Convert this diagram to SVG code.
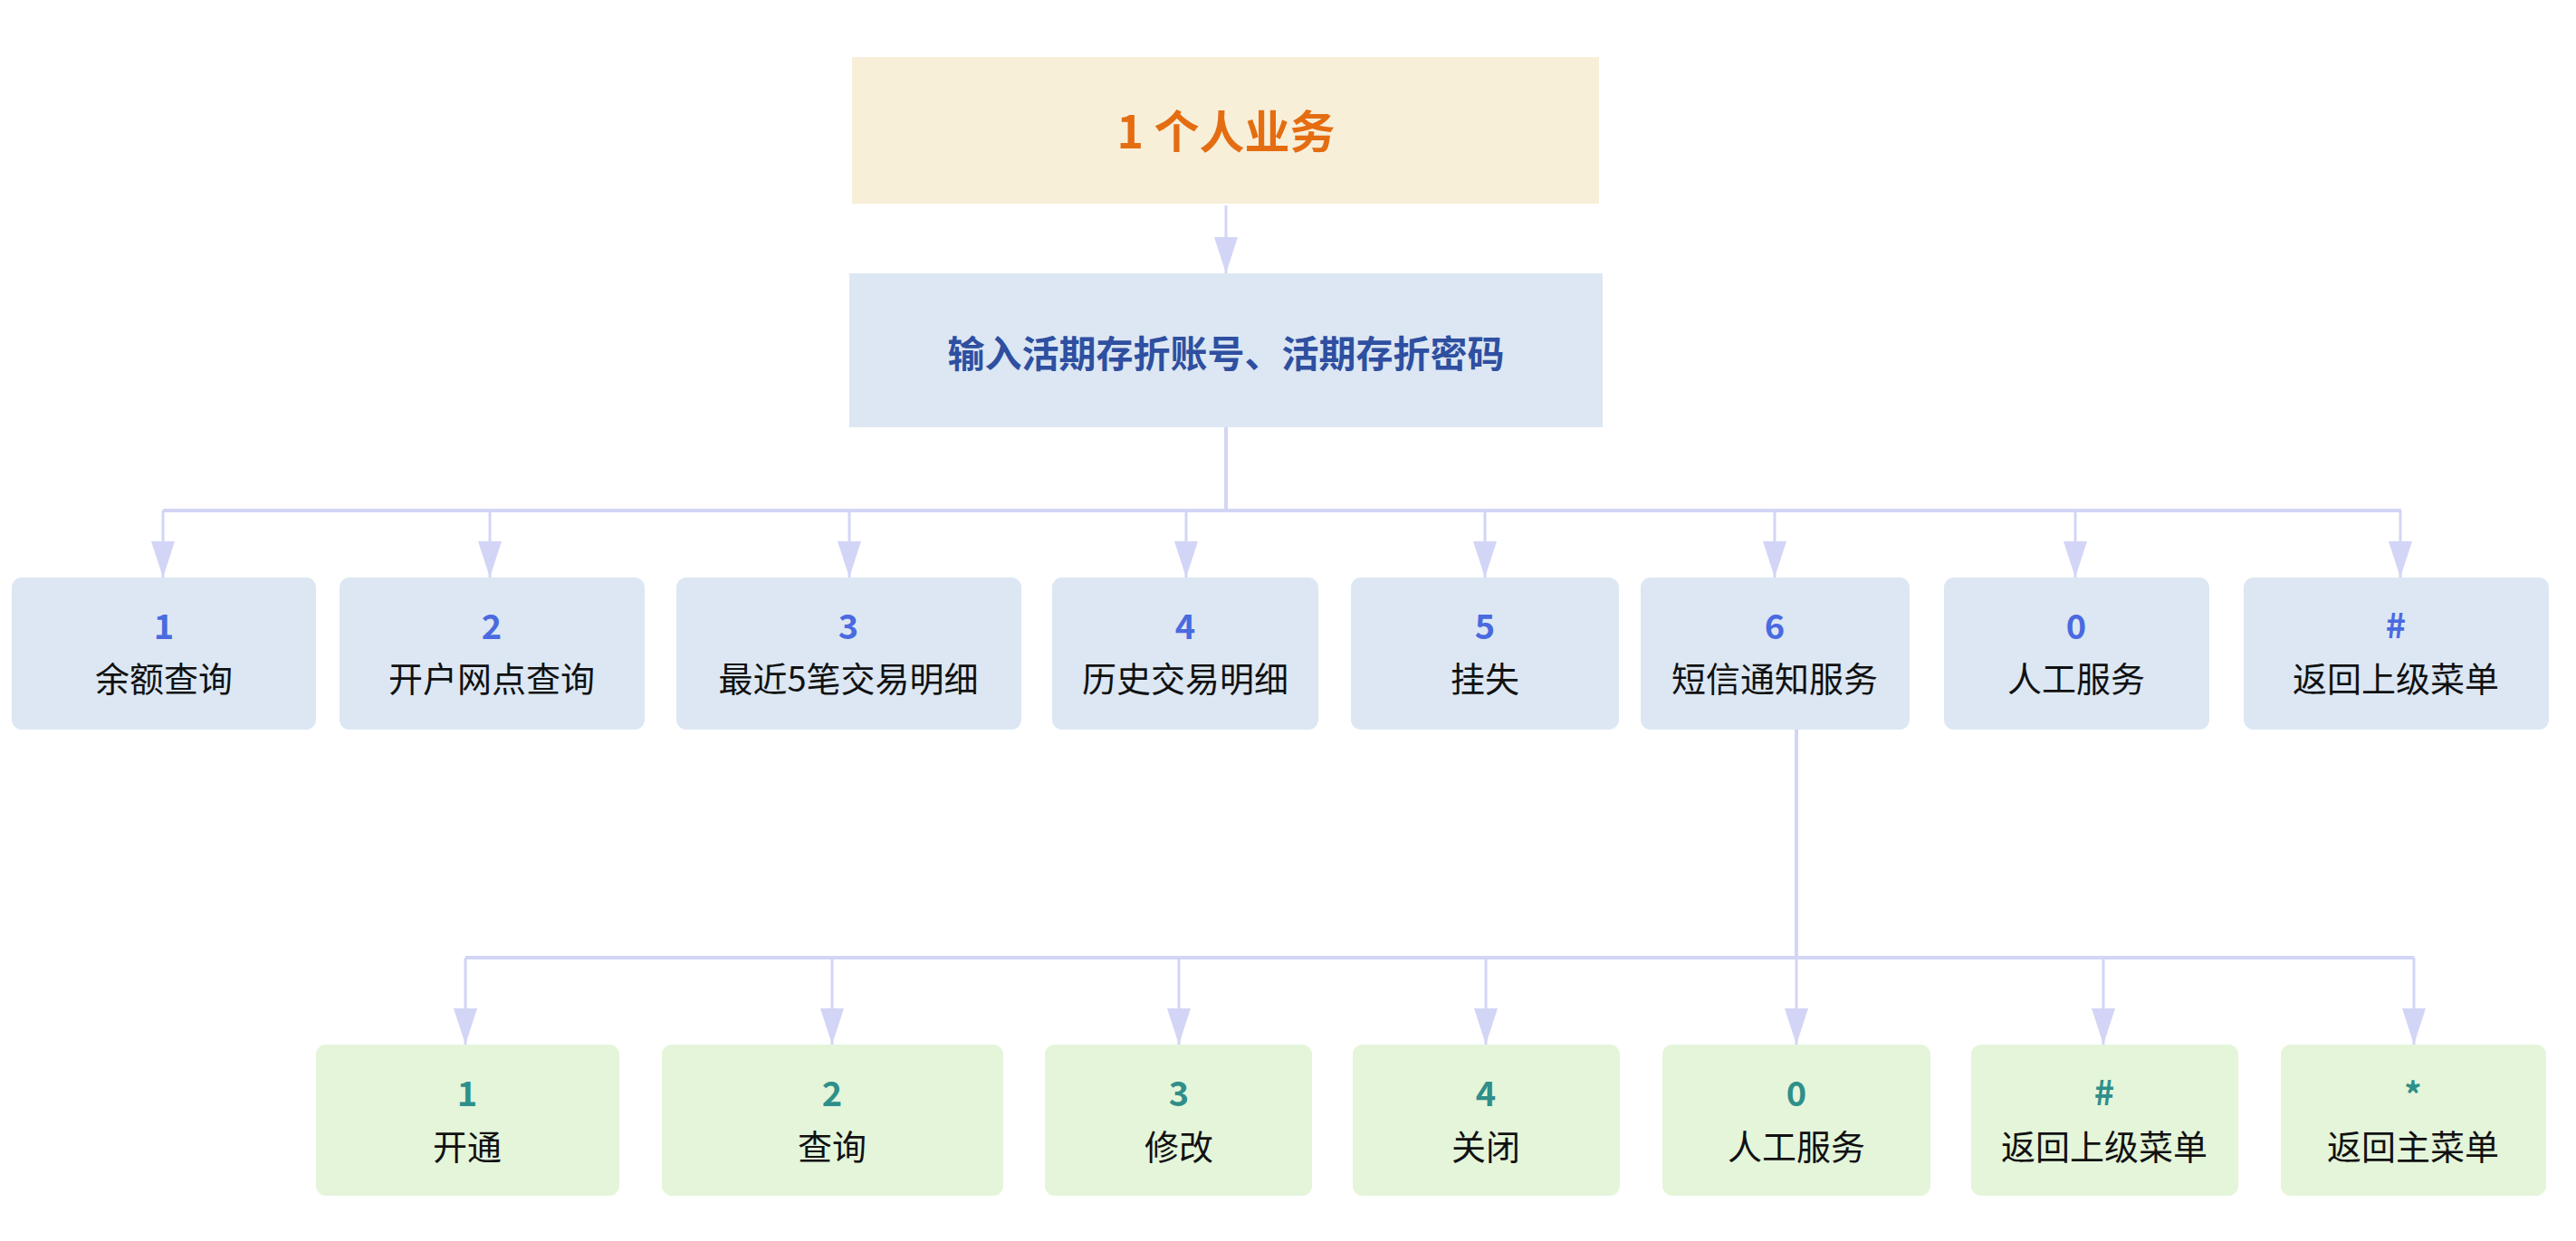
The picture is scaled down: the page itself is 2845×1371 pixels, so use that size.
<svg xmlns="http://www.w3.org/2000/svg" width="2845" height="1371" viewBox="0 0 2845 1371">
<style>
text{font-family:"Noto Sans CJK SC","Noto Sans",sans-serif;text-anchor:middle}
.l1{fill:#dce7f3}
.l2{fill:#e4f5da}
.n1{fill:#4a6ae0;font-size:38px;font-weight:700}
.n2{fill:#2f8f8a;font-size:38px;font-weight:700}
.t{fill:#111;font-size:38px}
.c{stroke:#d3d5f6;stroke-width:4;fill:none}
.a{stroke:#d3d5f6;stroke-width:3;fill:none;marker-end:url(#ah)}
</style>
<defs>
<marker id="ah" markerUnits="userSpaceOnUse" markerWidth="40" markerHeight="26" refX="40" refY="13" orient="auto">
<path d="M0,0 L40,13 L0,26 z" fill="#d3d5f6"/>
</marker>
</defs>
<rect width="2845" height="1371" fill="#fff"/>
<g id="connectors">
<line class="a" x1="1354" y1="227" x2="1354" y2="302"/>
<line class="c" x1="1354" y1="472" x2="1354" y2="564"/>
<line class="c" x1="180" y1="564" x2="2652" y2="564"/>
<line class="a" x1="180" y1="564" x2="180" y2="638"/>
<line class="a" x1="541" y1="564" x2="541" y2="638"/>
<line class="a" x1="938" y1="564" x2="938" y2="638"/>
<line class="a" x1="1310" y1="564" x2="1310" y2="638"/>
<line class="a" x1="1640" y1="564" x2="1640" y2="638"/>
<line class="a" x1="1960" y1="564" x2="1960" y2="638"/>
<line class="a" x1="2292" y1="564" x2="2292" y2="638"/>
<line class="a" x1="2651" y1="564" x2="2651" y2="638"/>
<line class="c" x1="1984" y1="806" x2="1984" y2="1058"/>
<line class="c" x1="514" y1="1058" x2="2666" y2="1058"/>
<line class="a" x1="514" y1="1058" x2="514" y2="1154"/>
<line class="a" x1="919" y1="1058" x2="919" y2="1154"/>
<line class="a" x1="1302" y1="1058" x2="1302" y2="1154"/>
<line class="a" x1="1641" y1="1058" x2="1641" y2="1154"/>
<line class="a" x1="1984" y1="1058" x2="1984" y2="1154"/>
<line class="a" x1="2323" y1="1058" x2="2323" y2="1154"/>
<line class="a" x1="2666" y1="1058" x2="2666" y2="1154"/>
</g>
<g id="root">
<rect x="941" y="63" width="825" height="162" fill="#f8efd9"/>
<text x="1354" y="164" style="fill:#e46d12;font-size:50px;font-weight:700">1 个人业务</text>
</g>
<g id="login">
<rect x="938" y="302" width="832" height="170" class="l1"/>
<text x="1354" y="406" style="fill:#2f4fa0;font-size:41px;font-weight:700">输入活期存折账号、活期存折密码</text>
</g>
<g id="m1"><rect x="13" y="638" width="336" height="168" rx="11" class="l1"/><text x="181" y="706" class="n1">1</text><text x="181" y="764" class="t">余额查询</text></g>
<g id="m2"><rect x="375" y="638" width="337" height="168" rx="11" class="l1"/><text x="543" y="706" class="n1">2</text><text x="543" y="764" class="t">开户网点查询</text></g>
<g id="m3"><rect x="747" y="638" width="381" height="168" rx="11" class="l1"/><text x="937" y="706" class="n1">3</text><text x="937" y="764" class="t">最近5笔交易明细</text></g>
<g id="m4"><rect x="1162" y="638" width="294" height="168" rx="11" class="l1"/><text x="1309" y="706" class="n1">4</text><text x="1309" y="764" class="t">历史交易明细</text></g>
<g id="m5"><rect x="1492" y="638" width="296" height="168" rx="11" class="l1"/><text x="1640" y="706" class="n1">5</text><text x="1640" y="764" class="t">挂失</text></g>
<g id="m6"><rect x="1812" y="638" width="297" height="168" rx="11" class="l1"/><text x="1960" y="706" class="n1">6</text><text x="1960" y="764" class="t">短信通知服务</text></g>
<g id="m0"><rect x="2147" y="638" width="293" height="168" rx="11" class="l1"/><text x="2293" y="706" class="n1">0</text><text x="2293" y="764" class="t">人工服务</text></g>
<g id="mh"><rect x="2478" y="638" width="337" height="168" rx="11" class="l1"/><text x="2646" y="705" class="n1">#</text><text x="2646" y="764" class="t">返回上级菜单</text></g>
<g id="s1"><rect x="349" y="1154" width="335" height="167" rx="11" class="l2"/><text x="516" y="1222" class="n2">1</text><text x="516" y="1281" class="t">开通</text></g>
<g id="s2"><rect x="731" y="1154" width="377" height="167" rx="11" class="l2"/><text x="919" y="1222" class="n2">2</text><text x="919" y="1281" class="t">查询</text></g>
<g id="s3"><rect x="1154" y="1154" width="295" height="167" rx="11" class="l2"/><text x="1302" y="1222" class="n2">3</text><text x="1302" y="1281" class="t">修改</text></g>
<g id="s4"><rect x="1494" y="1154" width="295" height="167" rx="11" class="l2"/><text x="1641" y="1222" class="n2">4</text><text x="1641" y="1281" class="t">关闭</text></g>
<g id="s0"><rect x="1836" y="1154" width="296" height="167" rx="11" class="l2"/><text x="1984" y="1222" class="n2">0</text><text x="1984" y="1281" class="t">人工服务</text></g>
<g id="sh"><rect x="2177" y="1154" width="295" height="167" rx="11" class="l2"/><text x="2324" y="1221" class="n2">#</text><text x="2324" y="1281" class="t">返回上级菜单</text></g>
<g id="ss"><rect x="2519" y="1154" width="293" height="167" rx="11" class="l2"/><text x="2665" y="1224" class="n2">*</text><text x="2665" y="1281" class="t">返回主菜单</text></g>
</svg>
